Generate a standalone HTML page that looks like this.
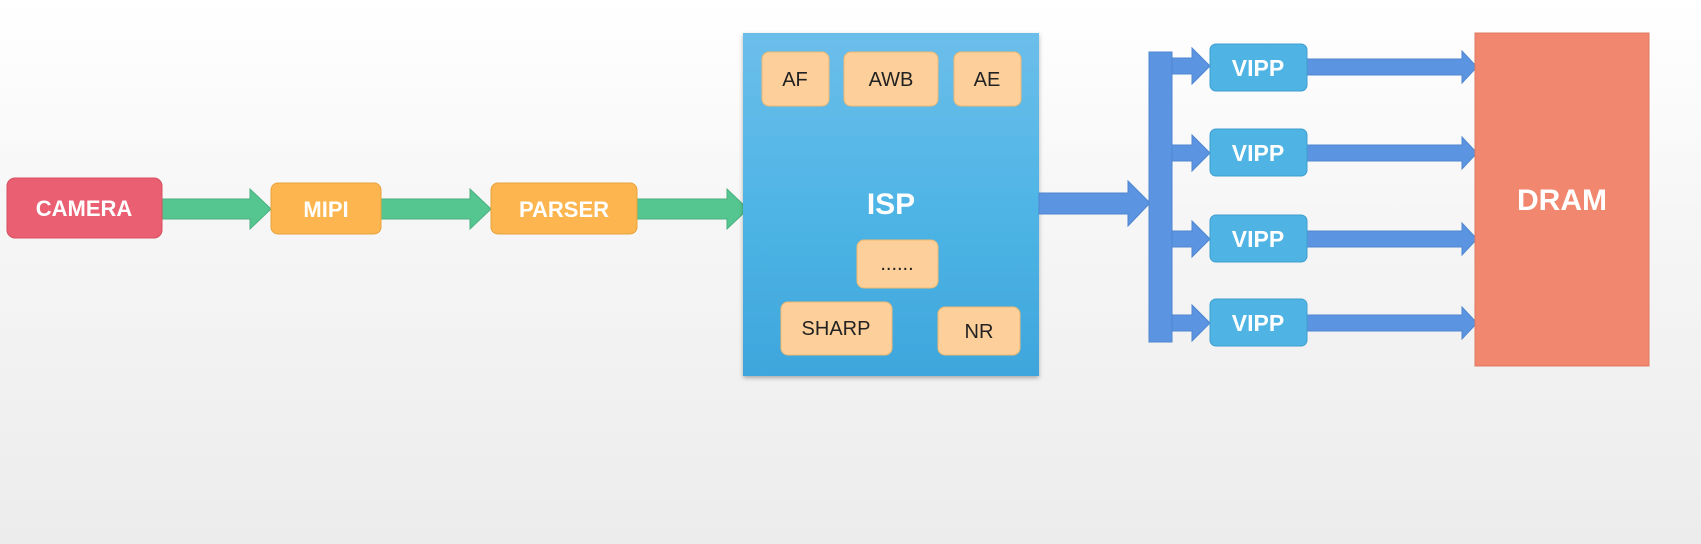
<!DOCTYPE html>
<html><head><style>
body{margin:0;width:1701px;height:544px;overflow:hidden;background:linear-gradient(#fff,#f6f6f6 40%,#ececec);font-family:"Liberation Sans",sans-serif;}
</style></head><body>
<svg width="1701" height="544" xmlns="http://www.w3.org/2000/svg" style="position:absolute;left:0;top:0">
<defs>
<linearGradient id="isp" x1="0" y1="0" x2="0" y2="1"><stop offset="0" stop-color="#6cbeea"/><stop offset="0.5" stop-color="#4fb5e6"/><stop offset="1" stop-color="#3ea6dc"/></linearGradient>
<filter id="sh"><feDropShadow dx="0" dy="2" stdDeviation="2" flood-opacity="0.3"/></filter>
</defs>
<g fill="#55c690" stroke="#4ab080" stroke-width="1">
<polygon points="162,199 250,199 250,189 271,209 250,229 250,219 162,219"/>
<polygon points="381,199 470,199 470,189 491,209 470,229 470,219 381,219"/>
<polygon points="637,199 727,199 727,189 748,209 727,229 727,219 637,219"/>
</g>
<rect x="7" y="178" width="155" height="60" rx="8" fill="#ea5f72" stroke="#d65062"/>
<text x="84" y="216" fill="#fff" font-size="22" font-weight="bold" text-anchor="middle">CAMERA</text>
<rect x="271" y="183" width="110" height="51" rx="7" fill="#fdb64f" stroke="#e8a23c"/>
<text x="326" y="217" fill="#fff" font-size="22" font-weight="bold" text-anchor="middle">MIPI</text>
<rect x="491" y="183" width="146" height="51" rx="7" fill="#fdb64f" stroke="#e8a23c"/>
<text x="564" y="217" fill="#fff" font-size="22" font-weight="bold" text-anchor="middle">PARSER</text>
<rect x="743" y="33" width="296" height="343" fill="url(#isp)" filter="url(#sh)"/>
<g fill="#fdd09b" stroke="#f0b870">
<rect x="762" y="52" width="67" height="54" rx="7"/>
<rect x="844" y="52" width="94" height="54" rx="7"/>
<rect x="954" y="52" width="67" height="54" rx="7"/>
<rect x="857" y="240" width="81" height="48" rx="7"/>
<rect x="781" y="302" width="111" height="53" rx="7"/>
<rect x="938" y="307" width="82" height="48" rx="7"/>
</g>
<g fill="#222" font-size="20" text-anchor="middle">
<text x="795" y="86">AF</text><text x="891" y="86">AWB</text><text x="987" y="86">AE</text>
<text x="897" y="270">......</text><text x="836" y="335">SHARP</text><text x="979" y="338">NR</text>
</g>
<text x="891" y="214" fill="#fff" font-size="30" font-weight="bold" text-anchor="middle">ISP</text>
<g fill="#5b94e1" stroke="#4f86d0" stroke-width="1">
<polygon points="1039,193 1128,193 1128,181 1150,203 1128,226 1128,214 1039,214"/>
<rect x="1149" y="52" width="23" height="290"/>
<polygon points="1172,58 1192,58 1192,48 1210,66 1192,84 1192,74 1172,74"/>
<polygon points="1172,145 1192,145 1192,135 1210,153 1192,171 1192,161 1172,161"/>
<polygon points="1172,231 1192,231 1192,221 1210,239 1192,257 1192,247 1172,247"/>
<polygon points="1172,315 1192,315 1192,305 1210,323 1192,341 1192,331 1172,331"/>
<polygon points="1306,59 1462,59 1462,51 1477,67 1462,83 1462,75 1306,75"/>
<polygon points="1306,145 1462,145 1462,137 1477,153 1462,169 1462,161 1306,161"/>
<polygon points="1306,231 1462,231 1462,223 1477,239 1462,255 1462,247 1306,247"/>
<polygon points="1306,315 1462,315 1462,307 1477,323 1462,339 1462,331 1306,331"/>
</g>
<g fill="#4fb3e3" stroke="#3e9fd0">
<rect x="1210" y="44" width="97" height="47" rx="6"/>
<rect x="1210" y="129" width="97" height="47" rx="6"/>
<rect x="1210" y="215" width="97" height="47" rx="6"/>
<rect x="1210" y="299" width="97" height="47" rx="6"/>
</g>
<g fill="#fff" font-size="23" font-weight="bold" text-anchor="middle">
<text x="1258" y="76">VIPP</text><text x="1258" y="161">VIPP</text><text x="1258" y="247">VIPP</text><text x="1258" y="331">VIPP</text>
</g>
<rect x="1475" y="33" width="174" height="333" fill="#f0876e" stroke="#e07a62"/>
<text x="1562" y="210" fill="#fff" font-size="30" font-weight="bold" text-anchor="middle">DRAM</text>
</svg>
</body></html>
